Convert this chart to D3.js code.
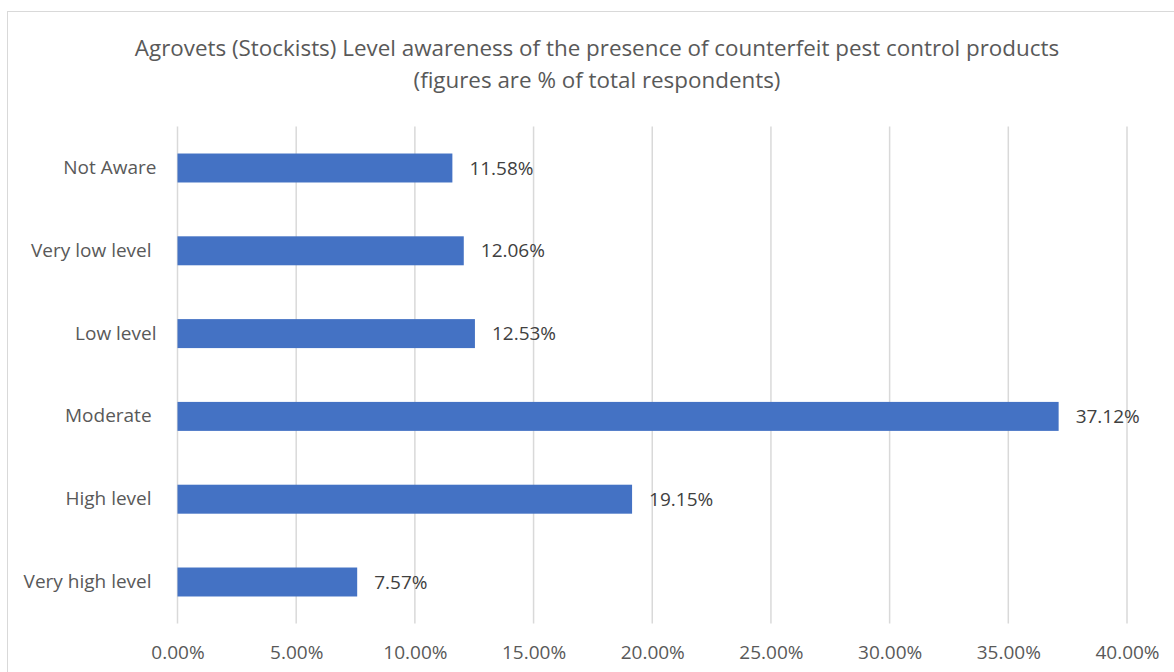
<!DOCTYPE html>
<html><head><meta charset="utf-8">
<script src="https://cdn.jsdelivr.net/npm/d3@7"></script>
<style>body{margin:0;background:#fff;} text{font-family:"Open Sans",sans-serif; white-space:pre;}</style>
</head><body>
<svg id="c" width="1174" height="672"></svg>
<script>
const categories = ["Not Aware","Very low level ","Low level","Moderate ","High level ","Very high level "];
const values = [11.58,12.06,12.53,37.12,19.15,7.57];
const tickValues = [0,5,10,15,20,25,30,35,40];
const titleLines = ["Agrovets (Stockists) Level awareness of the presence of counterfeit pest control products","(figures are % of total respondents)"];

const FONT="'Open Sans',sans-serif";
const svg = d3.select("#c");
const m={left:177.5,right:1127,top:126.6,bottom:623.4};
svg.append("rect").attr("x",7.5).attr("y",11.5).attr("width",1180).attr("height",700)
  .attr("fill","#fff").attr("stroke","#d9d9d9").attr("stroke-width",1);

const x=d3.scaleLinear().domain([0,40]).range([m.left,m.right]);
const y=d3.scaleBand().domain(categories).range([m.top,m.bottom]).paddingInner(0.65).paddingOuter(0.325);

svg.append("g").selectAll("line").data(tickValues).join("line")
  .attr("x1",d=>x(d)).attr("x2",d=>x(d)).attr("y1",m.top).attr("y2",m.bottom)
  .attr("stroke","#d9d9d9").attr("stroke-width",1.5);

const xa=svg.append("g").attr("transform",`translate(0,${m.bottom})`)
  .call(d3.axisBottom(x).tickValues(tickValues).tickSize(0).tickPadding(22).tickFormat(d=>d.toFixed(2)+"%"));
xa.select(".domain").remove();
xa.selectAll("text").attr("fill","#595959").style("font-size","19px").style("font-family",FONT);

const ya=svg.append("g").attr("transform",`translate(${m.left},0)`)
  .call(d3.axisLeft(y).tickSize(0).tickPadding(21));
ya.select(".domain").remove();
ya.selectAll("text").attr("fill","#595959").style("font-size","19px").style("font-family",FONT)
  .style("white-space","pre");

svg.append("g").selectAll("rect").data(categories).join("rect")
  .attr("x",x(0)).attr("y",d=>y(d)).attr("height",y.bandwidth())
  .attr("width",(d,i)=>x(values[i])-x(0)).attr("fill","#4472C4");

svg.append("g").selectAll("text").data(categories).join("text")
  .attr("x",(d,i)=>x(values[i])+17).attr("y",d=>y(d)+y.bandwidth()/2).attr("dy","0.35em")
  .attr("fill","#404040").style("font-size","19px")
  .text((d,i)=>values[i].toFixed(2)+"%");

svg.append("g").selectAll("text").data(titleLines).join("text")
  .attr("x",597).attr("y",(d,i)=>56+i*32).attr("text-anchor","middle")
  .attr("fill","#595959").style("font-size","22.4px").text(d=>d);
</script>
</body></html>
